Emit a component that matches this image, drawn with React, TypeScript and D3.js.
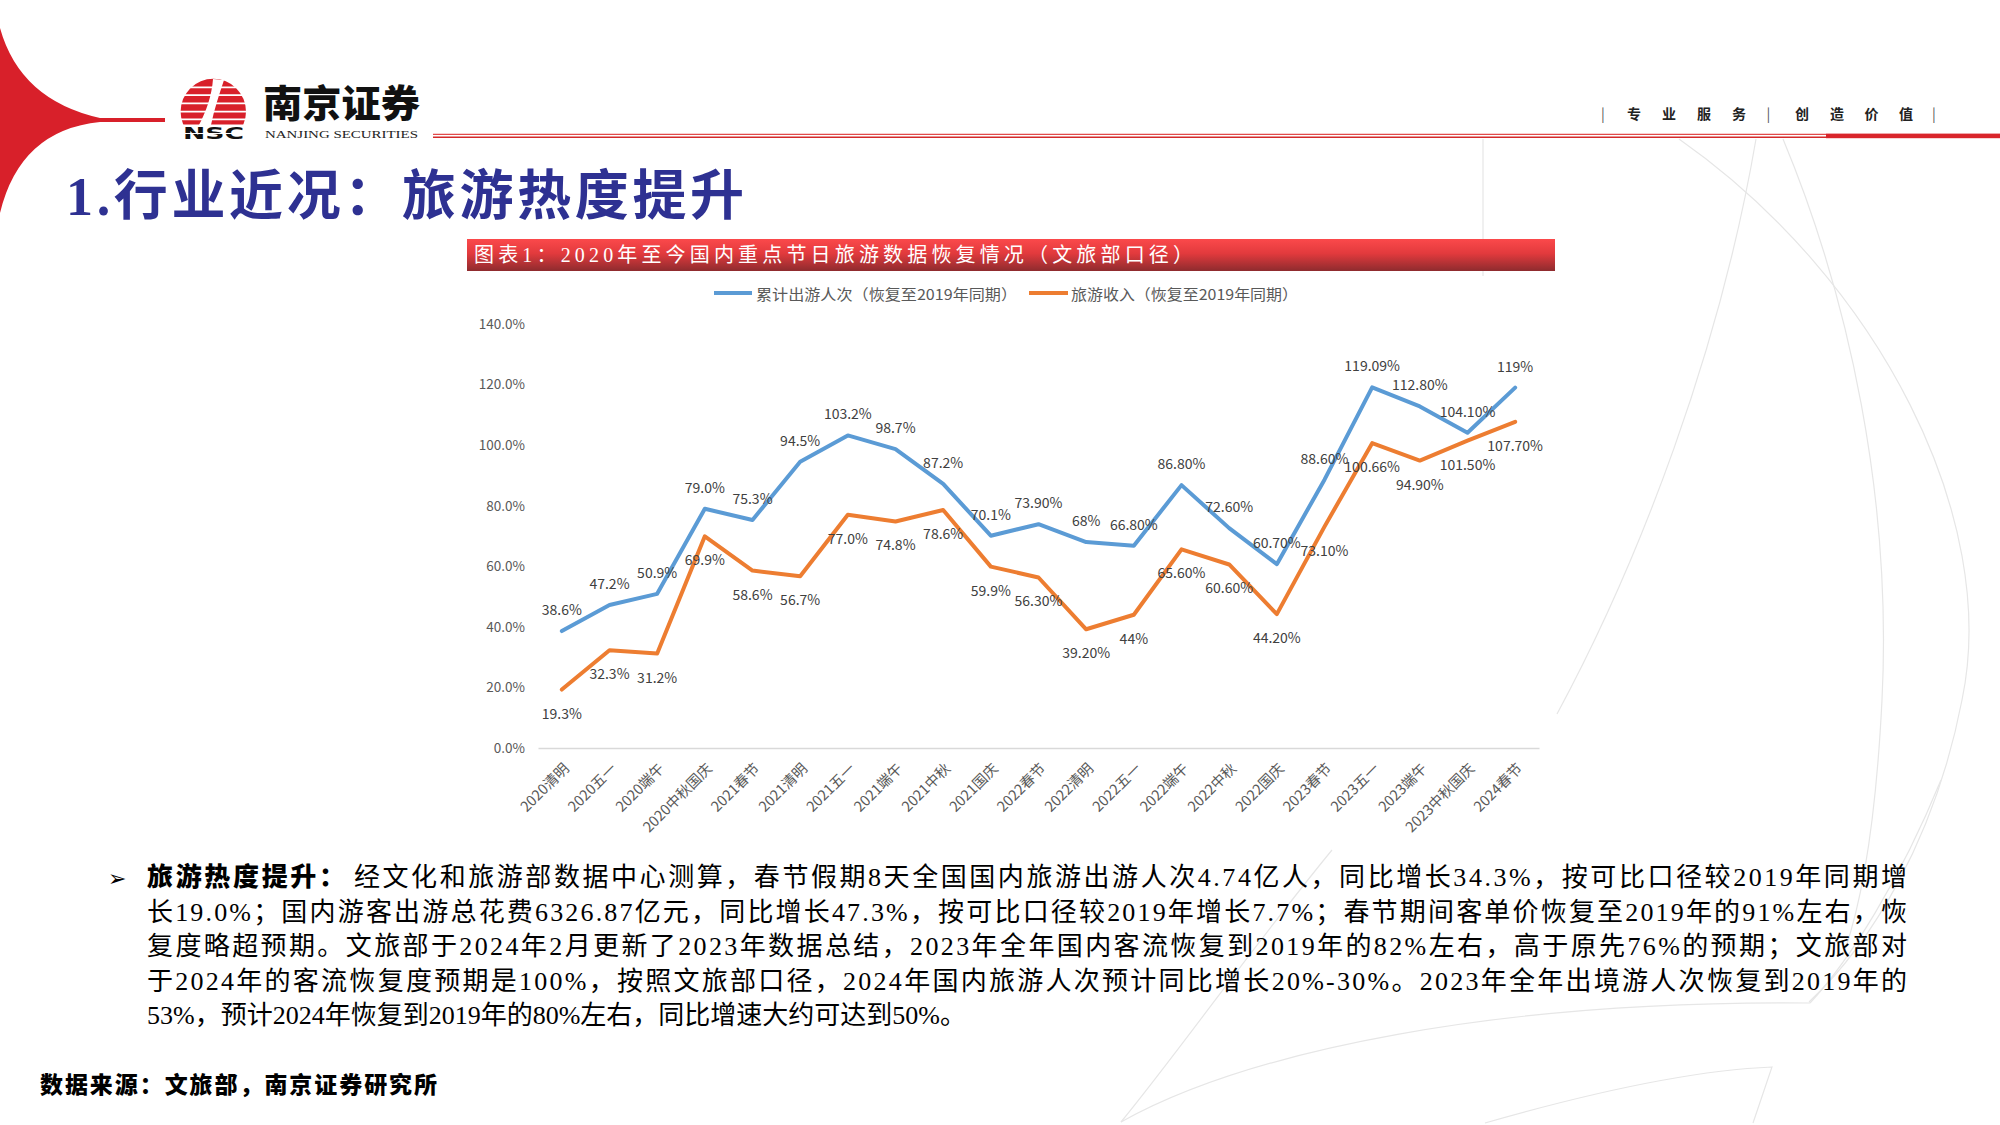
import React, { useEffect, useRef } from "react"
import * as d3 from "d3"

// categories (x axis)
const categories = [
	"2020清明", "2020五一", "2020端午", "2020中秋国庆", "2021春节", "2021清明", "2021五一",
	"2021端午", "2021中秋", "2021国庆", "2022春节", "2022清明", "2022五一", "2022端午",
	"2022中秋", "2022国庆", "2023春节", "2023五一", "2023端午", "2023中秋国庆", "2024春节",
]

// 累计出游人次（恢复至2019年同期）
const visitorValues = [
	38.6, 47.2, 50.9, 79.0, 75.3, 94.5, 103.2, 98.7, 87.2, 70.1, 73.9,
	68, 66.8, 86.8, 72.6, 60.7, 88.6, 119.09, 112.8, 104.1, 119,
]
const visitorLabels = [
	"38.6%", "47.2%", "50.9%", "79.0%", "75.3%", "94.5%", "103.2%", "98.7%", "87.2%", "70.1%", "73.90%",
	"68%", "66.80%", "86.80%", "72.60%", "60.70%", "88.60%", "119.09%", "112.80%", "104.10%", "119%",
]

// 旅游收入（恢复至2019年同期）
const revenueValues = [
	19.3, 32.3, 31.2, 69.9, 58.6, 56.7, 77.0, 74.8, 78.6, 59.9, 56.3,
	39.2, 44, 65.6, 60.6, 44.2, 73.1, 100.66, 94.9, 101.5, 107.7,
]
const revenueLabels = [
	"19.3%", "32.3%", "31.2%", "69.9%", "58.6%", "56.7%", "77.0%", "74.8%", "78.6%", "59.9%", "56.30%",
	"39.20%", "44%", "65.60%", "60.60%", "44.20%", "73.10%", "100.66%", "94.90%", "101.50%", "107.70%",
]

const seriesNames = ["累计出游人次（恢复至2019年同期）", "旅游收入（恢复至2019年同期）"]
const yTicks = [0, 20, 40, 60, 80, 100, 120, 140]

const pageTitle = "1.行业近况：旅游热度提升"
const chartTitle = "图表1：2020年至今国内重点节日旅游数据恢复情况（文旅部口径）"
const slogan = ["|", "专", "业", "服", "务", "|", "创", "造", "价", "值", "|"]
const bodyHeading = "旅游热度提升："
const bodyLines = [
	"经文化和旅游部数据中心测算，春节假期8天全国国内旅游出游人次4.74亿人，同比增长34.3%，按可比口径较2019年同期增",
	"长19.0%；国内游客出游总花费6326.87亿元，同比增长47.3%，按可比口径较2019年增长7.7%；春节期间客单价恢复至2019年的91%左右，恢",
	"复度略超预期。文旅部于2024年2月更新了2023年数据总结，2023年全年国内客流恢复到2019年的82%左右，高于原先76%的预期；文旅部对",
	"于2024年的客流恢复度预期是100%，按照文旅部口径，2024年国内旅游人次预计同比增长20%-30%。2023年全年出境游人次恢复到2019年的",
	"53%，预计2024年恢复到2019年的80%左右，同比增速大约可达到50%。",
]
const sourceNote = "数据来源：文旅部，南京证券研究所"

const W = 2000
const H = 1125
const SANS = "'Noto Sans CJK SC', 'Noto Sans', sans-serif"
const SERIF = "'Liberation Serif', 'Noto Sans CJK SC', serif"
const BLUE = "#5B9BD5"
const ORANGE = "#ED7D31"
const RED = "#D8202A"

// faint background ornaments of the slide template
const decorPaths = [
	"M1483,139 L1483,276",
	"M1679,139 C1880,280 2000,520 1962,700 C1935,840 1870,945 1809,1002",
	"M1783,139 C1850,300 1892,500 1882,700 C1876,820 1862,900 1845,950",
	"M1756,139 C1720,350 1640,560 1557,714",
	"M1121,1122 C1250,1050 1500,1000 1810,1003",
	"M1332,850 C1250,950 1180,1050 1121,1122",
	"M1485,1123 C1600,1090 1700,1070 1772,1067 L1753,1123",
	"M1941,780 C1900,880 1850,960 1810,1003",
]

const App = () => {
	const ref = useRef<SVGSVGElement>(null)

	useEffect(() => {
		const svg = d3.select(ref.current)
		svg.selectAll("*").remove()

		const defs = svg.append("defs")
		const grad = defs
			.append("linearGradient")
			.attr("id", "barGrad")
			.attr("x1", 0)
			.attr("y1", 0)
			.attr("x2", 0)
			.attr("y2", 1)
		grad.append("stop").attr("offset", "0%").attr("stop-color", "#FB494B")
		grad.append("stop").attr("offset", "45%").attr("stop-color", "#E23A3D")
		grad.append("stop").attr("offset", "100%").attr("stop-color", "#8E2B2E")
		defs
			.append("clipPath")
			.attr("id", "logoClip")
			.append("rect")
			.attr("x", 170)
			.attr("y", 70)
			.attr("width", 90)
			.attr("height", 54.5)

		svg.append("rect").attr("width", W).attr("height", H).attr("fill", "#fff")

		// background ornaments
		svg
			.append("g")
			.selectAll("path")
			.data(decorPaths)
			.join("path")
			.attr("d", d => d)
			.attr("fill", "none")
			.attr("stroke", "#e6e6e6")
			.attr("stroke-width", 1.2)

		// red swoosh on the left
		svg
			.append("path")
			.attr("d", "M0,28 Q20,100 100,118 L165,118 L165,122 L100,122 Q20,130 0,213 Z")
			.attr("fill", RED)

		// logo
		const logo = svg.append("g")
		logo
			.append("circle")
			.attr("cx", 213.3)
			.attr("cy", 111.5)
			.attr("r", 32.7)
			.attr("fill", RED)
			.attr("clip-path", "url(#logoClip)")
		logo
			.selectAll("line")
			.data([87.3, 95.2, 103.3, 111.7, 119.3])
			.join("line")
			.attr("x1", 178)
			.attr("x2", 250)
			.attr("y1", d => d)
			.attr("y2", d => d)
			.attr("stroke", "#fff")
			.attr("stroke-width", 1.8)
		logo
			.append("path")
			.attr("d", "M213,79 C212,95 206,112 199,125 L211,125 C214,110 219,95 224,80 Z")
			.attr("fill", "#fff")
		logo
			.append("text")
			.attr("x", 183)
			.attr("y", 139)
			.attr("textLength", 61)
			.attr("lengthAdjust", "spacingAndGlyphs")
			.style("font-family", "'DejaVu Sans', sans-serif")
			.style("font-weight", 700)
			.style("font-size", "15px")
			.style("fill", "#111")
			.text("NSC")
		logo
			.append("line")
			.attr("x1", 182)
			.attr("x2", 246)
			.attr("y1", 133.5)
			.attr("y2", 133.5)
			.attr("stroke", "#fff")
			.attr("stroke-width", 1)
		logo
			.append("text")
			.attr("x", 263)
			.attr("y", 117)
			.attr("textLength", 157)
			.attr("lengthAdjust", "spacingAndGlyphs")
			.style("font-family", SANS)
			.style("font-weight", 900)
			.style("font-size", "38px")
			.style("fill", "#111")
			.text("南京证券")
		logo
			.append("text")
			.attr("x", 265)
			.attr("y", 138)
			.attr("textLength", 153)
			.attr("lengthAdjust", "spacingAndGlyphs")
			.style("font-family", SERIF)
			.style("font-size", "10.5px")
			.style("fill", "#222")
			.text("NANJING SECURITIES")

		// header rules
		svg.append("line").attr("x1", 433).attr("x2", 1826).attr("y1", 134.3).attr("y2", 134.3).attr("stroke", "#E24A4A").attr("stroke-width", 1.2)
		svg.append("line").attr("x1", 433).attr("x2", 1826).attr("y1", 137.2).attr("y2", 137.2).attr("stroke", "#D42A2A").attr("stroke-width", 1.6)
		svg.append("rect").attr("x", 1826).attr("y", 133.6).attr("width", 174).attr("height", 4.6).attr("fill", "#D9252B")

		// slogan
		const sloganX = [1603, 1634, 1669, 1704, 1739, 1768.5, 1802, 1837, 1871.5, 1906, 1934]
		svg
			.append("g")
			.selectAll("text")
			.data(slogan)
			.join("text")
			.attr("x", (d, i) => sloganX[i])
			.attr("y", 113)
			.attr("text-anchor", "middle")
			.attr("dominant-baseline", "central")
			.style("font-family", SANS)
			.style("font-weight", d => (d === "|" ? 400 : 700))
			.style("font-size", "14px")
			.style("fill", d => (d === "|" ? "#555" : "#222"))
			.text(d => d)

		// page title
		svg
			.append("text")
			.attr("x", 66)
			.attr("y", 215)
			.attr("textLength", 678)
			.attr("lengthAdjust", "spacing")
			.style("font-family", SERIF)
			.style("font-weight", 700)
			.style("font-size", "54px")
			.style("fill", "#2E3192")
			.text(pageTitle)

		// chart title bar
		svg.append("rect").attr("x", 467).attr("y", 239).attr("width", 1088).attr("height", 32).attr("fill", "url(#barGrad)")
		svg
			.append("text")
			.attr("x", 474)
			.attr("y", 262)
			.attr("textLength", 719)
			.attr("lengthAdjust", "spacing")
			.style("font-family", SERIF)
			.style("font-size", "20px")
			.style("fill", "#fff")
			.text(chartTitle)

		// legend
		const legendItems = [
			{ name: seriesNames[0], color: BLUE, x0: 714, x1: 752, tx: 756, len: 261 },
			{ name: seriesNames[1], color: ORANGE, x0: 1029, x1: 1068, tx: 1071, len: 227 },
		]
		const legend = svg.append("g").attr("class", "legend")
		legendItems.forEach(item => {
			legend
				.append("line")
				.attr("x1", item.x0)
				.attr("x2", item.x1)
				.attr("y1", 293)
				.attr("y2", 293)
				.attr("stroke", item.color)
				.attr("stroke-width", 4)
			legend
				.append("text")
				.attr("x", item.tx)
				.attr("y", 293)
				.attr("dominant-baseline", "central")
				.attr("textLength", item.len)
				.attr("lengthAdjust", "spacingAndGlyphs")
				.style("font-family", SANS)
				.style("font-size", "15px")
				.style("fill", "#595959")
				.text(item.name)
		})

		// scales
		const marginLeft = 538
		const marginRight = 1539
		const marginTop = 324
		const marginBottom = 748

		const x = d3.scalePoint().domain(categories).range([marginLeft, marginRight]).padding(0.5)
		const y = d3.scaleLinear().domain([0, 140]).range([marginBottom, marginTop])

		// y axis
		const yAxis = d3
			.axisLeft(y)
			.tickValues(yTicks)
			.tickSize(0)
			.tickPadding(13)
			.tickFormat(d => `${(+d).toFixed(1)}%`)
		const yg = svg.append("g").attr("transform", `translate(${marginLeft},0)`).call(yAxis)
		yg.select(".domain").remove()
		yg.selectAll("text")
			.style("font-family", SANS)
			.style("font-size", "13.5px")
			.style("fill", "#595959")

		// x axis
		const xAxis = d3.axisBottom(x).tickSize(0).tickSizeOuter(0)
		const xg = svg.append("g").attr("transform", `translate(0,${marginBottom})`).call(xAxis)
		xg.select(".domain").attr("stroke", "#D9D9D9").attr("stroke-width", 1.3)
		xg.selectAll("text")
			.attr("x", 0)
			.attr("y", 0)
			.attr("dy", "0.35em")
			.attr("text-anchor", "end")
			.attr("transform", "translate(4,18) rotate(-45)")
			.style("font-family", SANS)
			.style("font-size", "14.5px")
			.style("fill", "#595959")

		// lines
		const series = [
			{ values: visitorValues, labels: visitorLabels, color: BLUE, offset: -22 },
			{ values: revenueValues, labels: revenueLabels, color: ORANGE, offset: 23 },
		]
		const line = d3
			.line<number>()
			.x((d, i) => x(categories[i]) as number)
			.y(d => y(d))

		series.forEach(s => {
			svg
				.append("path")
				.datum(s.values)
				.attr("d", line)
				.attr("fill", "none")
				.attr("stroke", s.color)
				.attr("stroke-width", 4)
				.attr("stroke-linejoin", "round")
				.attr("stroke-linecap", "round")
		})

		series.forEach(s => {
			svg
				.append("g")
				.selectAll("text")
				.data(s.values)
				.join("text")
				.attr("x", (d, i) => x(categories[i]) as number)
				.attr("y", d => y(d) + s.offset)
				.attr("text-anchor", "middle")
				.attr("dominant-baseline", "central")
				.style("font-family", SANS)
				.style("font-size", "14px")
				.style("fill", "#404040")
				.text((d, i) => s.labels[i])
		})

		// body text
		const body = svg.append("g")
		body
			.append("text")
			.attr("x", 108)
			.attr("y", 886)
			.style("font-family", "'DejaVu Sans', sans-serif")
			.style("font-size", "22px")
			.style("fill", "#000")
			.text("➢")
		body
			.append("text")
			.attr("x", 147)
			.attr("y", 886)
			.attr("textLength", 198)
			.attr("lengthAdjust", "spacing")
			.style("font-family", SANS)
			.style("font-weight", 900)
			.style("font-size", "26px")
			.style("fill", "#000")
			.text(bodyHeading)
		const lineY = [886, 920.5, 955, 989.5, 1024]
		const lineX = [354, 147, 147, 147, 147]
		const lineLen = [1553, 1760, 1760, 1760, null]
		bodyLines.forEach((t, i) => {
			const el = body
				.append("text")
				.attr("x", lineX[i])
				.attr("y", lineY[i])
				.style("font-family", SERIF)
				.style("font-size", "26px")
				.style("fill", "#000")
				.text(t)
			if (lineLen[i]) el.attr("textLength", lineLen[i]).attr("lengthAdjust", "spacing")
		})

		// source
		svg
			.append("text")
			.attr("x", 40)
			.attr("y", 1093)
			.attr("textLength", 397)
			.attr("lengthAdjust", "spacing")
			.style("font-family", SANS)
			.style("font-weight", 900)
			.style("font-size", "23px")
			.style("fill", "#000")
			.text(sourceNote)
	}, [])

	return (
		<svg
			ref={ref}
			width={W}
			height={H}
			style={{ position: "absolute", left: 0, top: 0, display: "block" }}
		></svg>
	)
}

export default App
